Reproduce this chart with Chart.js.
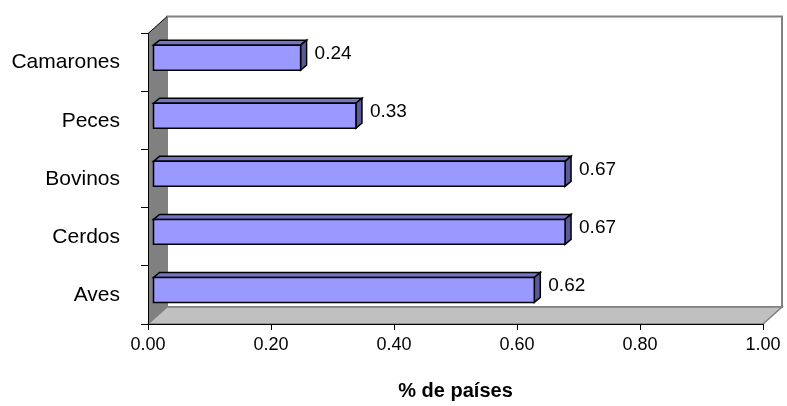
<!DOCTYPE html>
<html>
<head>
<meta charset="utf-8">
<script src="https://cdn.jsdelivr.net/npm/chart.js@4/dist/chart.umd.min.js"></script>
<style>
  html, body { margin: 0; padding: 0; background: #ffffff; }
  #wrap { width: 787px; height: 406px; position: relative; }
</style>
</head>
<body>
<div id="wrap"><canvas id="c" width="787" height="406"></canvas></div>
<script>
const categories = ['Camarones', 'Peces', 'Bovinos', 'Cerdos', 'Aves'];
const values = [0.24, 0.33, 0.67, 0.67, 0.62];
const xTickValues = [0.00, 0.20, 0.40, 0.60, 0.80, 1.00];
const axisTitle = '% de países';

const FONT = "'Liberation Sans', Arial, sans-serif";
const DEPTH = { dx: 19, dy: -17 };
const FRONT = { dx: 5, dy: -5 };      // bar front face shift inside the depth
const BARTOP = { dx: 6, dy: -5 };     // bar top/side face depth

const wallsPlugin = {
  id: 'walls',
  beforeDraw(chart) {
    const { ctx, chartArea: { left, right, top, bottom } } = chart;
    const { dx, dy } = DEPTH;
    ctx.save();
    // back wall
    ctx.fillStyle = '#ffffff';
    ctx.strokeStyle = '#808080';
    ctx.lineWidth = 2;
    ctx.beginPath();
    ctx.rect(left + dx, top + dy, right - left, bottom - top);
    ctx.fill();
    ctx.stroke();
    // floor
    ctx.fillStyle = '#c0c0c0';
    ctx.lineWidth = 1.5;
    ctx.beginPath();
    ctx.moveTo(left, bottom);
    ctx.lineTo(left + dx, bottom + dy);
    ctx.lineTo(right + dx, bottom + dy);
    ctx.lineTo(right, bottom);
    ctx.closePath();
    ctx.fill();
    ctx.stroke();
    // left wall
    ctx.fillStyle = '#808080';
    ctx.strokeStyle = '#000000';
    ctx.lineWidth = 1;
    ctx.beginPath();
    ctx.moveTo(left, top);
    ctx.lineTo(left + dx, top + dy);
    ctx.lineTo(left + dx, bottom + dy);
    ctx.lineTo(left, bottom);
    ctx.closePath();
    ctx.fill();
    ctx.beginPath();
    ctx.moveTo(left, top);
    ctx.lineTo(left + dx, top + dy);
    ctx.stroke();
    ctx.restore();
  }
};

const bars3dPlugin = {
  id: 'bars3d',
  afterDatasetsDraw(chart) {
    const ctx = chart.ctx;
    const meta = chart.getDatasetMeta(0);
    const ox = BARTOP.dx, oy = BARTOP.dy;
    ctx.save();
    ctx.lineWidth = 1.5;
    ctx.strokeStyle = '#000000';
    ctx.lineJoin = 'miter';
    meta.data.forEach((bar, i) => {
      const p = bar.getProps(['x', 'y', 'base', 'height'], true);
      const x0 = p.base + FRONT.dx, x1 = p.x + FRONT.dx;
      const y0 = p.y - p.height / 2 + FRONT.dy, y1 = p.y + p.height / 2 + FRONT.dy;
      // top face
      ctx.fillStyle = '#7474c4';
      ctx.beginPath();
      ctx.moveTo(x0, y0); ctx.lineTo(x0 + ox, y0 + oy); ctx.lineTo(x1 + ox, y0 + oy); ctx.lineTo(x1, y0);
      ctx.closePath(); ctx.fill(); ctx.stroke();
      // side face
      ctx.fillStyle = '#5a5a99';
      ctx.beginPath();
      ctx.moveTo(x1, y0); ctx.lineTo(x1 + ox, y0 + oy); ctx.lineTo(x1 + ox, y1 + oy); ctx.lineTo(x1, y1);
      ctx.closePath(); ctx.fill(); ctx.stroke();
      // front face
      ctx.fillStyle = '#9999ff';
      ctx.beginPath();
      ctx.rect(x0, y0, x1 - x0, y1 - y0);
      ctx.fill(); ctx.stroke();
      // value label
      ctx.fillStyle = '#000000';
      ctx.font = '19px ' + FONT;
      ctx.textAlign = 'left';
      ctx.textBaseline = 'middle';
      ctx.fillText(values[i].toFixed(2), x1 + ox + 8, (y0 + y1) / 2 - 4);
    });
    ctx.restore();
  }
};

new Chart(document.getElementById('c'), {
  type: 'bar',
  data: {
    labels: categories,
    datasets: [{
      data: values,
      backgroundColor: 'rgba(0,0,0,0)',
      borderWidth: 0,
      categoryPercentage: 1.0,
      barPercentage: 0.43
    }]
  },
  options: {
    indexAxis: 'y',
    responsive: false,
    animation: false,
    events: [],
    layout: { padding: { top: 33, right: 24, bottom: 0, left: 0 } },
    plugins: {
      legend: { display: false },
      tooltip: { enabled: false }
    },
    scales: {
      x: {
        type: 'linear',
        min: 0,
        max: 1,
        afterBuildTicks(scale) {
          scale.ticks = xTickValues.map(v => ({ value: v }));
        },
        ticks: {
          color: '#000000',
          font: { family: FONT, size: 18 },
          padding: 4,
          maxRotation: 0,
          callback: (v) => Number(v).toFixed(2)
        },
        grid: {
          drawOnChartArea: false,
          drawTicks: true,
          tickLength: 6,
          color: '#000000'
        },
        border: { display: true, color: '#000000', width: 1 },
        title: {
          display: true,
          text: axisTitle,
          color: '#000000',
          font: { family: FONT, size: 20, weight: 'bold' },
          padding: { top: 0, bottom: 3 }
        },
        afterFit(scale) { scale.height = 82; }
      },
      y: {
        type: 'category',
        ticks: {
          color: '#000000',
          font: { family: FONT, size: 21 },
          padding: 21
        },
        grid: {
          offset: true,
          drawOnChartArea: false,
          drawTicks: true,
          tickLength: 7,
          color: '#000000'
        },
        border: { display: true, color: '#000000', width: 1 },
        afterFit(scale) { scale.width = 148; }
      }
    }
  },
  plugins: [wallsPlugin, bars3dPlugin]
});
</script>
</body>
</html>
